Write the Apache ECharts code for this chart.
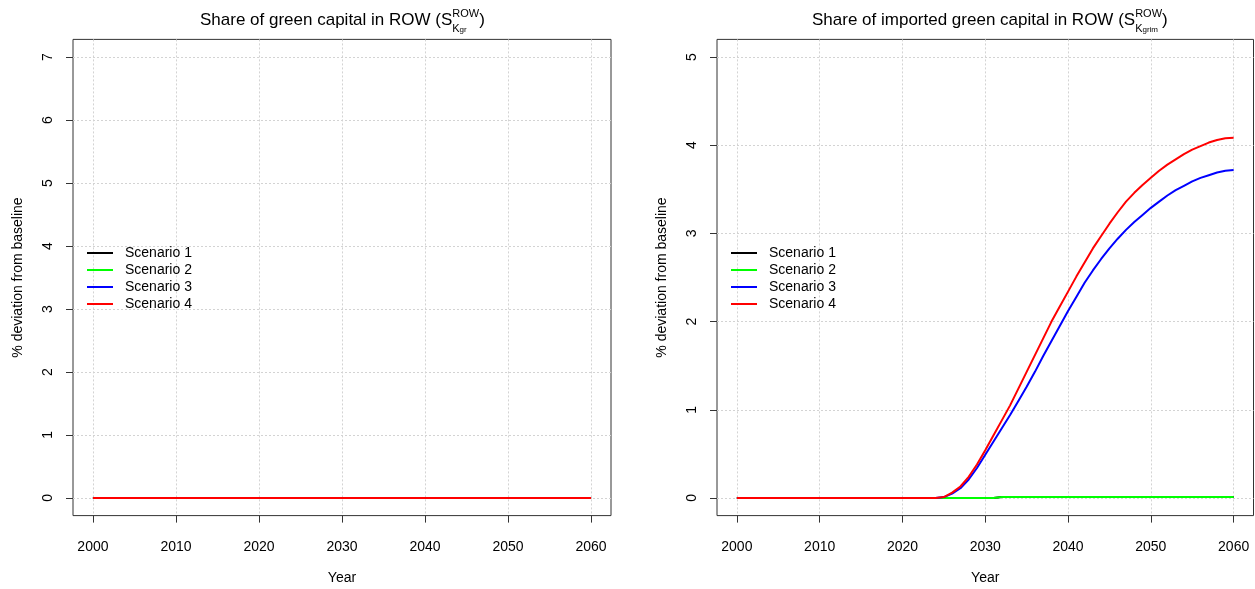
<!DOCTYPE html>
<html>
<head>
<meta charset="utf-8">
<script src="https://cdn.jsdelivr.net/npm/echarts@6/dist/echarts.min.js"></script>
<style>
html,body{margin:0;padding:0;background:#fff;}
#chart{width:1255px;height:589px;}
</style>
</head>
<body>
<div id="chart"></div>
<script>
// ---------- data ----------
var years = [2000,2001,2002,2003,2004,2005,2006,2007,2008,2009,
             2010,2011,2012,2013,2014,2015,2016,2017,2018,2019,
             2020,2021,2022,2023,2024,2025,2026,2027,2028,2029,
             2030,2031,2032,2033,2034,2035,2036,2037,2038,2039,
             2040,2041,2042,2043,2044,2045,2046,2047,2048,2049,
             2050,2051,2052,2053,2054,2055,2056,2057,2058,2059,2060];

var scenarioNames = ['Scenario 1','Scenario 2','Scenario 3','Scenario 4'];

// Left panel: share of green capital in ROW (all scenarios at 0)
var leftS1 = [0,0,0,0,0,0,0,0,0,0, 0,0,0,0,0,0,0,0,0,0, 0,0,0,0,0,0,0,0,0,0, 0,0,0,0,0,0,0,0,0,0, 0,0,0,0,0,0,0,0,0,0, 0,0,0,0,0,0,0,0,0,0, 0];
var leftS2 = [0,0,0,0,0,0,0,0,0,0, 0,0,0,0,0,0,0,0,0,0, 0,0,0,0,0,0,0,0,0,0, 0,0,0,0,0,0,0,0,0,0, 0,0,0,0,0,0,0,0,0,0, 0,0,0,0,0,0,0,0,0,0, 0];
var leftS3 = [0,0,0,0,0,0,0,0,0,0, 0,0,0,0,0,0,0,0,0,0, 0,0,0,0,0,0,0,0,0,0, 0,0,0,0,0,0,0,0,0,0, 0,0,0,0,0,0,0,0,0,0, 0,0,0,0,0,0,0,0,0,0, 0];
var leftS4 = [0,0,0,0,0,0,0,0,0,0, 0,0,0,0,0,0,0,0,0,0, 0,0,0,0,0,0,0,0,0,0, 0,0,0,0,0,0,0,0,0,0, 0,0,0,0,0,0,0,0,0,0, 0,0,0,0,0,0,0,0,0,0, 0];

// Right panel: share of imported green capital in ROW
var rightS1 = [0,0,0,0,0,0,0,0,0,0, 0,0,0,0,0,0,0,0,0,0, 0,0,0,0,0,0,0,0,0,0, 0,0,
               0.012,0.012,0.012,0.012,0.012,0.012,0.012,0.012,
               0.012,0.012,0.012,0.012,0.012,0.012,0.012,0.012,0.012,0.012,
               0.012,0.012,0.012,0.012,0.012,0.012,0.012,0.012,0.012,0.012, 0.012];
var rightS2 = [0,0,0,0,0,0,0,0,0,0, 0,0,0,0,0,0,0,0,0,0, 0,0,0,0,0,0,0,0,0,0, 0,0,
               0.012,0.012,0.012,0.012,0.012,0.012,0.012,0.012,
               0.012,0.012,0.012,0.012,0.012,0.012,0.012,0.012,0.012,0.012,
               0.012,0.012,0.012,0.012,0.012,0.012,0.012,0.012,0.012,0.012, 0.012];
var rightS3 = [0,0,0,0,0,0,0,0,0,0, 0,0,0,0,0,0,0,0,0,0, 0,0,0,0,0,
               0.01,0.05,0.11,0.21,0.34,
               0.49,0.64,0.79,0.94,1.10,1.26,1.43,1.61,1.78,1.95,
               2.12,2.28,2.44,2.58,2.71,2.83,2.94,3.04,3.13,3.21,
               3.29,3.36,3.43,3.49,3.54,3.59,3.63,3.66,3.69,3.71, 3.72];
var rightS4 = [0,0,0,0,0,0,0,0,0,0, 0,0,0,0,0,0,0,0,0,0, 0,0,0,0,0,
               0.01,0.06,0.13,0.24,0.38,
               0.54,0.71,0.88,1.05,1.24,1.43,1.62,1.81,2.00,2.17,
               2.34,2.51,2.67,2.83,2.97,3.11,3.24,3.36,3.46,3.55,
               3.63,3.71,3.78,3.84,3.90,3.95,3.99,4.03,4.06,4.08, 4.085];

var xTicks = [2000,2010,2020,2030,2040,2050,2060];
var leftYTicks = [0,1,2,3,4,5,6,7];
var rightYTicks = [0,1,2,3,4,5];

// ---------- styling ----------
var FF = "'Liberation Sans', Arial, Helvetica, sans-serif";
var colors = ['#000000','#00ff00','#0000ff','#ff0000'];
var axisColor = '#333333';
var gridColor = '#d3d3d3';

function pairs(vals){
  var out = [];
  for (var i = 0; i < years.length; i++) out.push([years[i], vals[i]]);
  return out;
}

function makeX(idx){
  return {
    type:'value', gridIndex:idx, min:1997.6, max:2062.4,
    axisLine:{show:false, onZero:false},
    axisTick:{show:true, length:7, customValues:xTicks, lineStyle:{color:axisColor, width:1}},
    axisLabel:{customValues:xTicks, formatter:function(v){return String(v);}, margin:25,
               fontSize:14, color:'#000', fontFamily:FF},
    splitLine:{show:true, lineStyle:{color:gridColor, width:1, type:[2,2]}},
    name:'Year', nameLocation:'middle', nameGap:56,
    nameTextStyle:{fontSize:14, color:'#000', fontFamily:FF}
  };
}
function makeY(idx, ticks, lo, hi){
  return {
    type:'value', gridIndex:idx, min:lo, max:hi,
    axisLine:{show:false, onZero:false},
    axisTick:{show:true, length:7, customValues:ticks, lineStyle:{color:axisColor, width:1}},
    axisLabel:{customValues:ticks, rotate:90, margin:18, fontSize:14, color:'#000', fontFamily:FF},
    splitLine:{show:true, lineStyle:{color:gridColor, width:1, type:[2,2]}},
    name:'% deviation from baseline', nameLocation:'middle', nameGap:48, nameRotate:90,
    nameTextStyle:{fontSize:14, color:'#000', fontFamily:FF}
  };
}

function mainTitle(left, prefix){
  return {
    left:left, top:8, padding:0,
    text:'{m|' + prefix + '}{s|ROW}{m|)}',
    textStyle:{
      fontWeight:'normal',
      rich:{
        m:{fontSize:17, lineHeight:24, color:'#000', fontFamily:FF, fontWeight:'normal'},
        s:{fontSize:11, lineHeight:11, verticalAlign:'top', color:'#000', fontFamily:FF, fontWeight:'normal'}
      }
    }
  };
}
function subTitle(left, prefix, sub){
  return {
    left:left, top:8, padding:0,
    text:'{h|' + prefix + '}{k|K}{g|' + sub + '}',
    textStyle:{
      fontWeight:'normal',
      rich:{
        h:{fontSize:17, lineHeight:26, color:'rgba(0,0,0,0)', fontFamily:FF, fontWeight:'normal'},
        k:{fontSize:11, lineHeight:13, verticalAlign:'bottom', color:'#000', fontFamily:FF, fontWeight:'normal'},
        g:{fontSize:8, lineHeight:8, verticalAlign:'bottom', color:'#000', fontFamily:FF, fontWeight:'normal'}
      }
    }
  };
}

var leftPrefix = 'Share of green capital in ROW (S';
var rightPrefix = 'Share of imported green capital in ROW (S';

function legendAt(left){
  return {
    orient:'vertical', left:left, top:246, padding:0,
    itemWidth:26, itemHeight:14, itemGap:3,
    icon:'path://M0,0L26,0L26,2L0,2Z',
    data:scenarioNames, selectedMode:false,
    textStyle:{fontSize:14, color:'#000', fontFamily:FF, padding:[0,0,0,7]}
  };
}

var leftData = [leftS1, leftS2, leftS3, leftS4];
var rightData = [rightS1, rightS2, rightS3, rightS4];
var series = [];
[leftData, rightData].forEach(function(set, gi){
  set.forEach(function(vals, si){
    series.push({
      type:'line', name:scenarioNames[si], xAxisIndex:gi, yAxisIndex:gi,
      data:pairs(vals), symbol:'none', showSymbol:false,
      lineStyle:{color:colors[si], width:2}, itemStyle:{color:colors[si]},
      emphasis:{disabled:true}, silent:true
    });
  });
});

var option = {
  animation:false,
  backgroundColor:'#ffffff',
  textStyle:{fontFamily:FF},
  title:[
    mainTitle(200, leftPrefix), subTitle(200, leftPrefix, 'gr'),
    mainTitle(812, rightPrefix), subTitle(812, rightPrefix, 'grim')
  ],
  legend:[legendAt(87), legendAt(731)],
  grid:[
    {left:73, right:644, top:39.4, bottom:73.4, show:true, borderColor:axisColor, borderWidth:1,
     backgroundColor:'transparent', containLabel:false, outerBoundsMode:'none'},
    {left:717, right:1.5, top:39.4, bottom:73.4, show:true, borderColor:axisColor, borderWidth:1,
     backgroundColor:'transparent', containLabel:false, outerBoundsMode:'none'}
  ],
  xAxis:[makeX(0), makeX(1)],
  yAxis:[makeY(0, leftYTicks, -0.28, 7.28), makeY(1, rightYTicks, -0.2, 5.2)],
  series:series
};

var chart = echarts.init(document.getElementById('chart'), null, {renderer:'canvas'});
chart.setOption(option);
</script>
</body>
</html>
